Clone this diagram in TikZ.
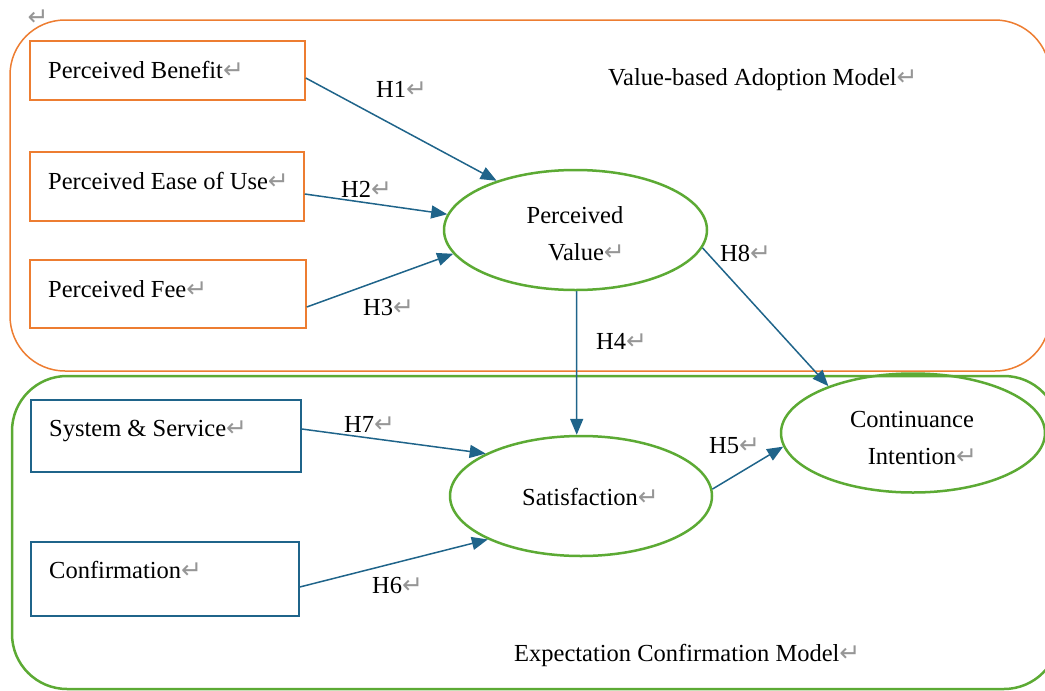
\documentclass[tikz,border=0pt]{standalone}
\usepackage{fontspec}
\setmainfont{Liberation Serif}
\newfontfamily\marksfont{DejaVu Sans}
\usetikzlibrary{arrows.meta,shapes.geometric}

\definecolor{vamorange}{RGB}{237,125,49}
\definecolor{ecmgreen}{RGB}{92,170,52}
\definecolor{pathblue}{RGB}{31,100,138}
\definecolor{markgray}{RGB}{150,150,150}

% paragraph mark after each text; the hanging version takes no width
\newcommand\retmark{{\marksfont\fontsize{25}{25}\selectfont\color{markgray}↵}}
\newcommand\hangmark{\rlap{\retmark}}

\tikzset{
  vamgroup/.style={draw=vamorange, line width=1.5pt, rounded corners=55pt},
  ecmgroup/.style={draw=ecmgreen, line width=2.5pt, rounded corners=55pt},
  vambox/.style={draw=vamorange, line width=1.5pt, inner sep=0pt},
  ecmbox/.style={draw=pathblue, line width=1.5pt, inner sep=0pt},
  construct/.style={ellipse, draw=ecmgreen, line width=2.5pt, inner sep=0pt},
  pathline/.style={draw=pathblue, line width=1.5pt, -{Triangle[length=16pt,width=13pt]}},
  lefttext/.style={anchor=base west, inner sep=0pt},
  midtext/.style={anchor=base, inner sep=0pt},
}

\begin{document}
\begin{tikzpicture}[x=1pt, y=-1pt, font=\fontsize{24.5}{37}\selectfont]
\useasboundingbox (0,0) rectangle (1045,691);

% the two model groups
\draw[vamgroup] (10,20) rectangle (1050,371);
\draw[ecmgroup] (12,376) rectangle (1059,689);
\node[inner sep=0pt] (topmark) at (38,18) {\retmark};

\node[lefttext] (vamtitle) at (608,85) {Value-based Adoption Model\retmark};
\node[lefttext] (ecmtitle) at (514,661) {Expectation Confirmation Model\retmark};

% antecedent boxes
\node[vambox, minimum width=275pt, minimum height=59pt] (pb)  at (167.5,70.5) {};
\node[vambox, minimum width=274pt, minimum height=69pt] (peu) at (167,186.5) {};
\node[vambox, minimum width=276pt, minimum height=68pt] (fee) at (168,294) {};
\node[ecmbox, minimum width=270pt, minimum height=72pt] (ss)  at (166,436) {};
\node[ecmbox, minimum width=268pt, minimum height=74pt] (conf) at (165,579) {};

\node[lefttext] (pbtext)   at (48,78)  {Perceived Benefit\retmark};
\node[lefttext] (peutext)  at (48,189) {Perceived Ease of Use\retmark};
\node[lefttext] (feetext)  at (48,297) {Perceived Fee\retmark};
\node[lefttext] (sstext)   at (49,436) {System \& Service\retmark};
\node[lefttext] (conftext) at (49,578) {Confirmation\retmark};

% latent constructs
\node[construct, minimum width=263pt, minimum height=120pt] (pv)  at (575.5,230) {};
\node[construct, minimum width=262pt, minimum height=120pt] (sat) at (581,496) {};
\node[construct, minimum width=264pt, minimum height=119pt] (ci)  at (913,433) {};

\node[midtext] (pvtext1)  at (575,223) {Perceived};
\node[midtext] (pvtext2)  at (576,260) {Value\hangmark};
\node[midtext] (sattext)  at (580,505) {Satisfaction\hangmark};
\node[midtext] (citext1)  at (912,427) {Continuance};
\node[midtext] (citext2)  at (912,464) {Intention\hangmark};

% hypothesised paths
\draw[pathline] ([yshift=-7.5pt]pb.east) -- (pv.148);
\draw[pathline] ([yshift=-7.5pt]peu.east) -- (pv.173);
\draw[pathline] ([yshift=-13pt]fee.east) -- (pv.191);
\draw[pathline] (pv.271) -- (sat.94);
\draw[pathline] (sat.3) -- (ci.186);
\draw[pathline] ([yshift=-8pt]conf.east) -- (sat.205);
\draw[pathline] ([yshift=7pt]ss.east) -- (sat.156);
\draw[pathline] (pv.-8) -- (ci.151);

\node[lefttext] (h1) at (376,97)  {H1\retmark};
\node[lefttext] (h2) at (341,197) {H2\retmark};
\node[lefttext] (h3) at (363,315) {H3\retmark};
\node[lefttext] (h4) at (596,349) {H4\retmark};
\node[lefttext] (h5) at (709,453) {H5\retmark};
\node[lefttext] (h6) at (372,593) {H6\retmark};
\node[lefttext] (h7) at (344,432) {H7\retmark};
\node[lefttext] (h8) at (720,261) {H8\retmark};
\end{tikzpicture}
\end{document}
